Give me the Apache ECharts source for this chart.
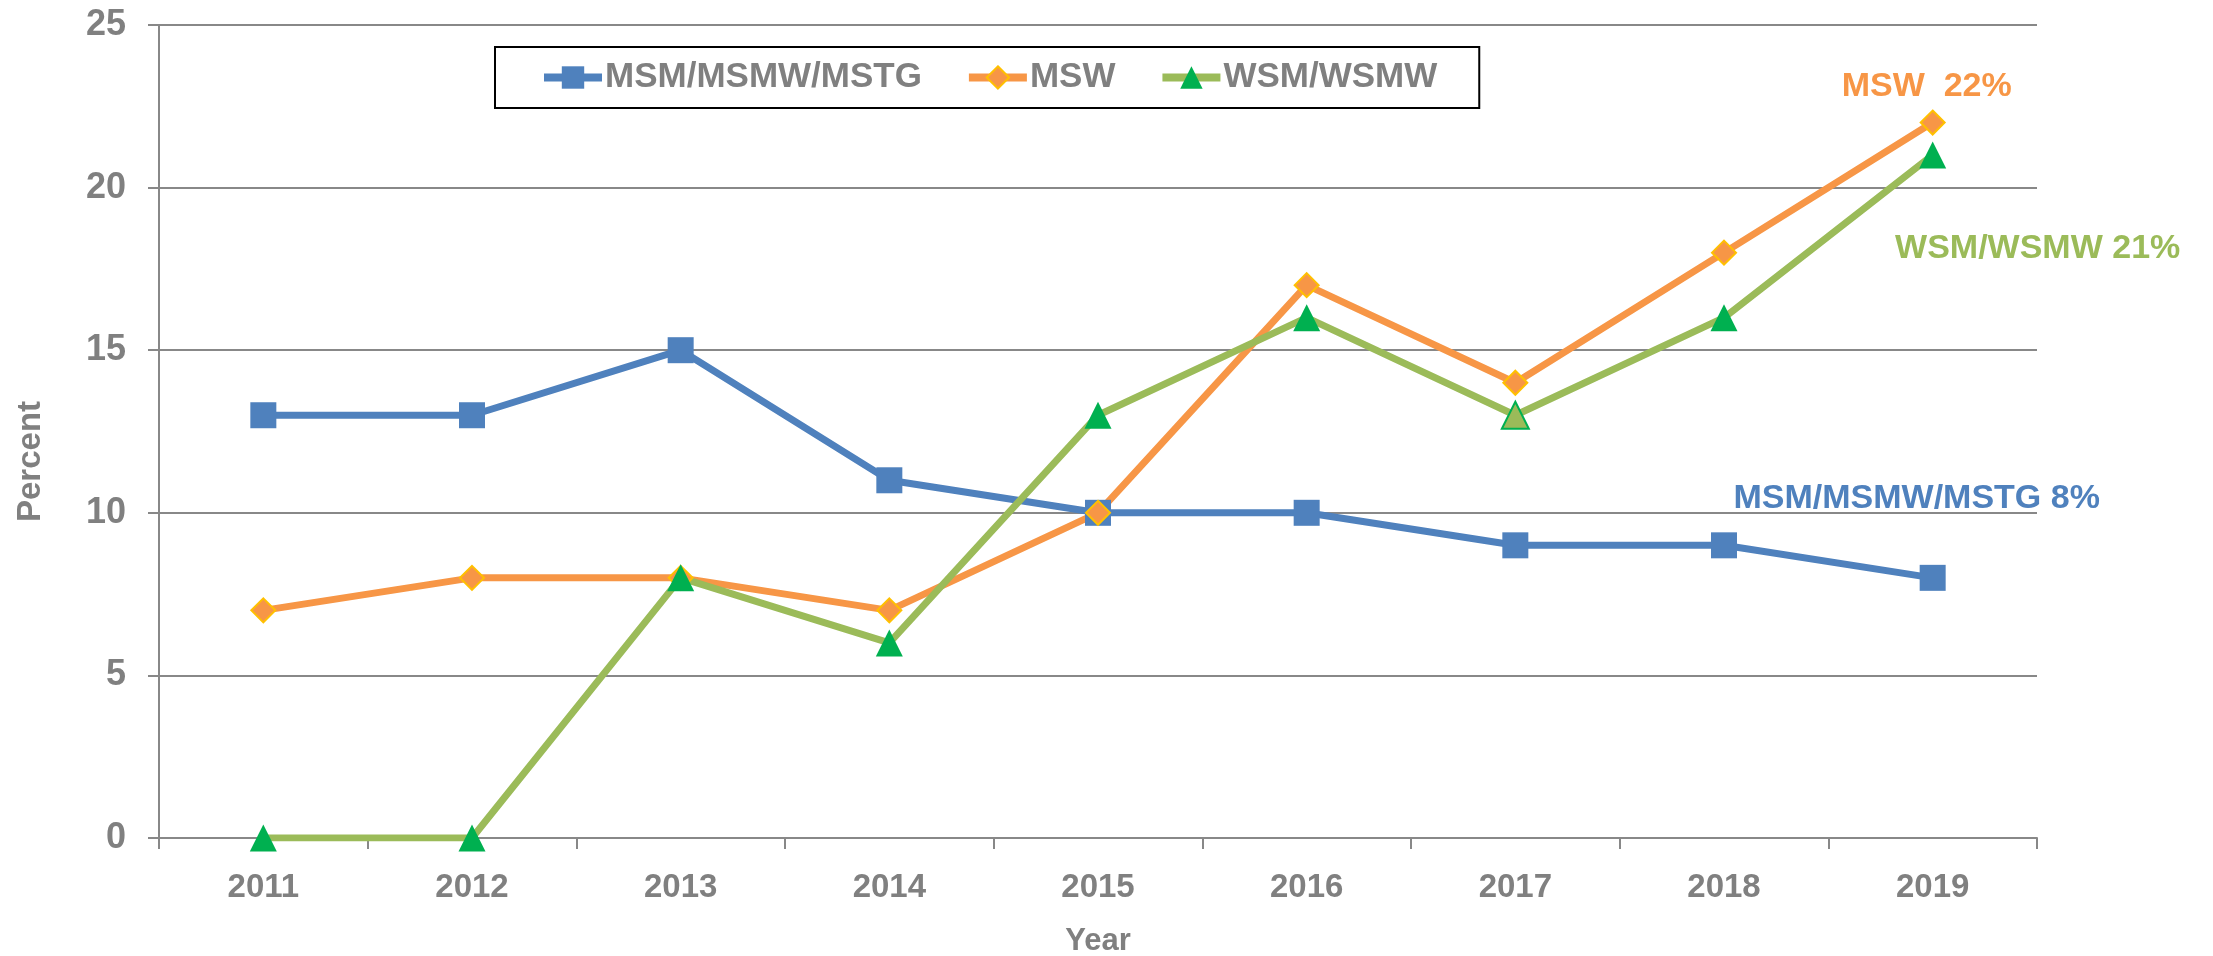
<!DOCTYPE html>
<html>
<head>
<meta charset="utf-8">
<script src="https://cdn.jsdelivr.net/npm/echarts@6/dist/echarts.min.js"></script>
<style>
html,body{margin:0;padding:0;background:#fff;}
#chart{width:2213px;height:956px;}
</style>
</head>
<body>
<div id="chart"></div>
<script>
const years = ['2011','2012','2013','2014','2015','2016','2017','2018','2019'];
const msmValues = [13, 13, 15, 11, 10, 10, 9, 9, 8];
const mswValues = [7, 8, 8, 7, 10, 17, 14, 18, 22];
const wsmValues = [0, 0, 8, 6, 13, 16, 13, 16, 21];
const seriesNames = ['MSM/MSMW/MSTG', 'MSW', 'WSM/WSMW'];
const endLabels = ['MSM/MSMW/MSTG 8%', 'MSW  22%', 'WSM/WSMW 21%'];
const yTicks = [0, 5, 10, 15, 20, 25];

const GRAY = '#808080';
const LINE_GRAY = '#888888';
const FONT = '"Liberation Sans", Arial, sans-serif';

function withEndLabel(values, text, color, offset, special) {
  const last = values.length - 1;
  return values.map((v, i) => {
    const item = { value: v };
    if (special && special.index === i) item.itemStyle = special.itemStyle;
    if (i === last) {
      item.label = {
        show: true,
        position: 'inside',
        offset: offset,
        formatter: text,
        color: color,
        fontSize: 34,
        fontWeight: 'bold',
        fontFamily: FONT
      };
    }
    return item;
  });
}

const chart = echarts.init(document.getElementById('chart'));
chart.setOption({
  animation: false,
  backgroundColor: '#ffffff',
  grid: { left: 159, right: 176, top: 25, bottom: 118, containLabel: false, outerBoundsMode: 'none' },
  legend: {
    left: 495, top: 47,
    orient: 'horizontal',
    borderColor: '#000',
    borderWidth: 2,
    padding: [13, 42, 13, 45],
    itemWidth: 58,
    itemHeight: 28,
    itemGap: 43,
    lineStyle: { width: 8 },
    textStyle: { fontSize: 35, fontWeight: 'bold', color: GRAY, fontFamily: FONT, padding: [0, 0, 0, -2] },
    data: seriesNames
  },
  xAxis: {
    type: 'category',
    data: years,
    boundaryGap: true,
    name: 'Year',
    nameLocation: 'middle',
    nameGap: 88,
    nameTextStyle: { fontSize: 31, fontWeight: 'bold', color: GRAY, fontFamily: FONT },
    axisLine: { show: true, lineStyle: { color: LINE_GRAY, width: 2 } },
    axisTick: { show: true, alignWithLabel: false, length: 11, lineStyle: { color: LINE_GRAY, width: 2 } },
    axisLabel: { fontSize: 33, fontWeight: 'bold', color: GRAY, margin: 33, fontFamily: FONT },
    splitLine: { show: false }
  },
  yAxis: {
    type: 'value',
    min: yTicks[0], max: yTicks[yTicks.length - 1], interval: 5,
    name: 'Percent',
    nameLocation: 'middle',
    nameGap: 112,
    nameRotate: 90,
    nameTextStyle: { fontSize: 33, fontWeight: 'bold', color: GRAY, fontFamily: FONT, padding: [0, 60, 0, 0] },
    axisLine: { show: true, lineStyle: { color: LINE_GRAY, width: 2 } },
    axisTick: { show: true, length: 11, lineStyle: { color: LINE_GRAY, width: 2 } },
    axisLabel: { fontSize: 36, fontWeight: 'bold', color: GRAY, margin: 33, fontFamily: FONT },
    splitLine: { show: true, lineStyle: { color: LINE_GRAY, width: 2 } }
  },
  series: [
    {
      name: seriesNames[0], type: 'line',
      data: withEndLabel(msmValues, endLabels[0], '#4f81bd', [-16, -79]),
      symbol: 'rect', symbolSize: 26,
      lineStyle: { color: '#4f81bd', width: 7 },
      itemStyle: { color: '#4f81bd' }
    },
    {
      name: seriesNames[1], type: 'line',
      data: withEndLabel(mswValues, endLabels[1], '#f79646', [-6, -36]),
      symbol: 'diamond', symbolSize: 24,
      lineStyle: { color: '#f79646', width: 7 },
      itemStyle: { color: '#f79646', borderColor: '#ffc000', borderWidth: 2 }
    },
    {
      name: seriesNames[2], type: 'line',
      data: withEndLabel(wsmValues, endLabels[2], '#9bbb59', [105, 94],
        { index: 6, itemStyle: { color: '#9bbb59', borderColor: '#00b050', borderWidth: 2 } }),
      symbol: 'triangle', symbolSize: 27,
      lineStyle: { color: '#9bbb59', width: 7 },
      itemStyle: { color: '#00b050' }
    }
  ]
});
</script>
</body>
</html>
